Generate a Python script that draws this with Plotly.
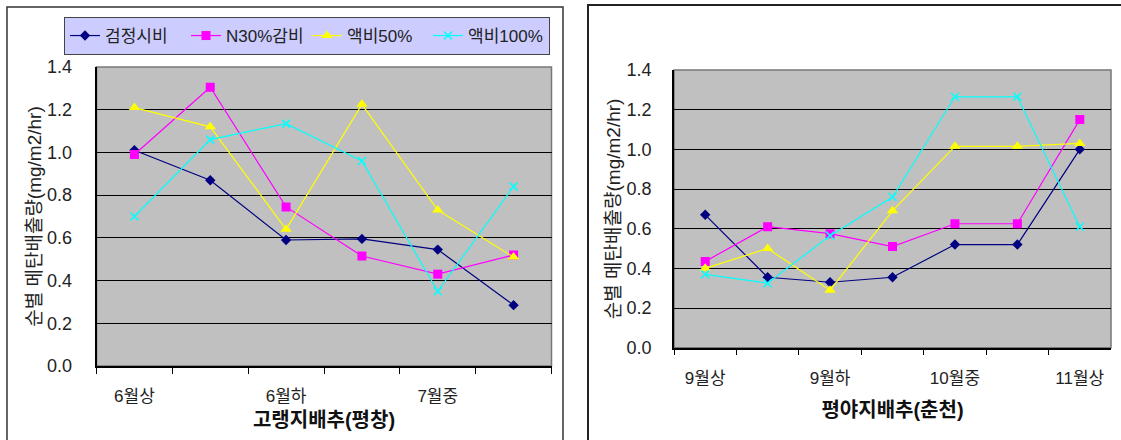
import plotly.graph_objects as go

# ---- data ----
series_names = ["검정시비", "N30%감비", "액비50%", "액비100%"]
series_colors = ["#000080", "#ff00ff", "#ffff00", "#00ffff"]
series_symbols = ["diamond", "square", "triangle-up", "x-thin"]

left_categories = ["6월상", "6월중", "6월하", "7월상", "7월중", "7월하"]
left_ticktext = ["6월상", "", "6월하", "", "7월중", ""]
left_values = [
    [1.01, 0.87, 0.59, 0.595, 0.545, 0.285],
    [0.99, 1.305, 0.745, 0.515, 0.43, 0.52],
    [1.21, 1.12, 0.64, 1.225, 0.73, 0.51],
    [0.70, 1.06, 1.135, 0.96, 0.35, 0.84],
]
left_xtitle = "고랭지배추(평창)"

right_categories = ["9월상", "9월중", "9월하", "10월상", "10월중", "10월하", "11월상"]
right_ticktext = ["9월상", "", "9월하", "", "10월중", "", "11월상"]
right_values = [
    [0.67, 0.355, 0.33, 0.355, 0.52, 0.52, 1.0],
    [0.435, 0.61, 0.575, 0.51, 0.625, 0.625, 1.15],
    [0.40, 0.50, 0.29, 0.69, 1.015, 1.015, 1.03],
    [0.37, 0.325, 0.565, 0.76, 1.265, 1.265, 0.61],
]
right_xtitle = "평야지배추(춘천)"

ytitle = "순별 메탄배출량(mg/m2/hr)"

W, H = 1121, 440
FONT = "Liberation Sans, Arial, Noto Sans CJK KR, sans-serif"

fig = go.Figure()

for i in range(4):
    sym = series_symbols[i]
    msize = {"diamond": 8, "square": 9, "triangle-up": 10, "x-thin": 8}[sym]
    mline = dict(width=1.5, color=series_colors[i]) if sym == "x-thin" else dict(width=0)
    fig.add_trace(go.Scatter(
        x=left_categories, y=left_values[i], name=series_names[i],
        mode="lines+markers", xaxis="x", yaxis="y",
        line=dict(color=series_colors[i], width=1.2),
        marker=dict(symbol=sym, size=msize, color=series_colors[i], line=mline),
        showlegend=True,
    ))
    fig.add_trace(go.Scatter(
        x=right_categories, y=right_values[i], name=series_names[i],
        mode="lines+markers", xaxis="x2", yaxis="y2",
        line=dict(color=series_colors[i], width=1.2),
        marker=dict(symbol=sym, size=msize, color=series_colors[i], line=mline),
        showlegend=False,
    ))

def px(v):
    return v / W

def py(v):
    return 1 - v / H

common_x = dict(
    type="category", tickson="boundaries", ticks="outside", ticklen=6,
    tickcolor="#000", showline=True, linecolor="#000", linewidth=1.5,
    showgrid=False, zeroline=False, tickfont=dict(size=17, color="#222"),
    ticklabelstandoff=14, tickmode="array", automargin=False,
)
common_y = dict(
    range=[0, 1.4], dtick=0.2, tickformat=".1f", ticks="inside", ticklen=6,
    tickcolor="#000", showline=True, linecolor="#000", linewidth=1.5,
    showgrid=True, gridcolor="#000", gridwidth=1, zeroline=False,
    tickfont=dict(size=18, color="#222"), automargin=False,
    ticklabelstandoff=19,
)

shapes = [
    dict(type="rect", xref="paper", yref="paper", x0=px(7), x1=px(563), y0=-0.1, y1=py(7),
         line=dict(color="#333", width=1.5), layer="below"),
    dict(type="rect", xref="paper", yref="paper", x0=px(588), x1=1.1, y0=-0.1, y1=py(5),
         line=dict(color="#222", width=2), layer="below"),
    dict(type="rect", xref="x domain", yref="y domain", x0=0, x1=1, y0=0, y1=1,
         line=dict(color="#777", width=1.5), layer="below"),
    dict(type="rect", xref="x2 domain", yref="y2 domain", x0=0, x1=1, y0=0, y1=1,
         line=dict(color="#777", width=1.5), layer="below"),
]

fig.update_layout(
    width=W, height=H, margin=dict(l=0, r=0, t=0, b=0, autoexpand=False),
    paper_bgcolor="white", plot_bgcolor="#c0c0c0",
    font=dict(family=FONT, color="#222"),
    xaxis=dict(common_x, domain=[px(96.5), px(551.5)], anchor="y",
               tickvals=left_categories, ticktext=left_ticktext,
               range=[-0.5, 5.5],
               title=dict(text="<b>" + left_xtitle + "</b>", font=dict(size=20, color="#111"), standoff=8)),
    yaxis=dict(common_y, domain=[py(366), py(67)], anchor="x",
               title=dict(text=ytitle, font=dict(size=19, color="#222"), standoff=0)),
    xaxis2=dict(common_x, domain=[px(674), px(1111)], anchor="y2",
                tickvals=right_categories, ticktext=right_ticktext,
                range=[-0.5, 6.5],
                title=dict(text="<b>" + right_xtitle + "</b>", font=dict(size=20, color="#111"), standoff=16)),
    yaxis2=dict(common_y, domain=[py(347.7), py(70)], anchor="x2",
                title=dict(text=ytitle, font=dict(size=19, color="#222"), standoff=1),
                ticklabelstandoff=17),
    legend=dict(
        orientation="h", x=px(64), y=py(17), xanchor="left", yanchor="top",
        bgcolor="#ccccff", bordercolor="#444", borderwidth=1,
        font=dict(size=17, color="#222"), itemwidth=30,
        tracegroupgap=0, entrywidth=76, entrywidthmode="pixels",
    ),
    shapes=shapes,
)

fig.write_html(
    "out.html",
    config={"displayModeBar": False},
    post_script="document.body.style.margin='0';document.body.style.padding='0';",
)
